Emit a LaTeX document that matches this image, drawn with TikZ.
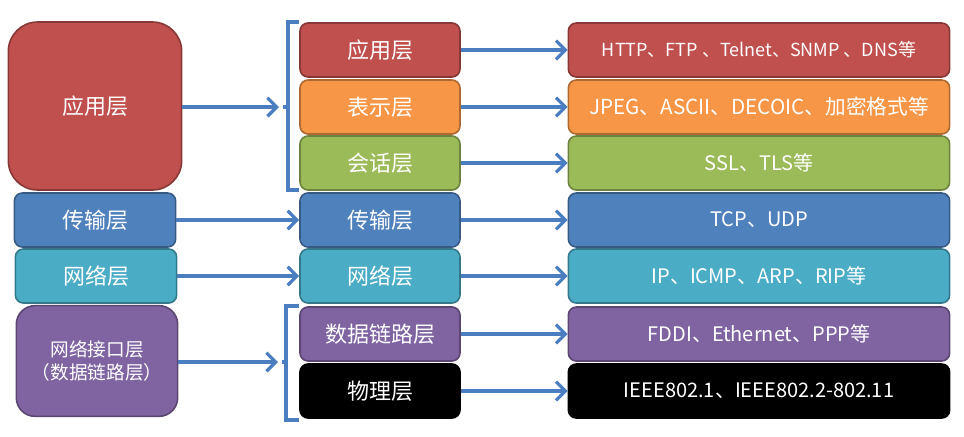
\documentclass[tikz,border=0pt]{standalone}
\usepackage{fontspec}
\setmainfont{Noto Sans CJK SC}
\usetikzlibrary{arrows.meta}
\definecolor{cred}{HTML}{C0504D}
\definecolor{corange}{HTML}{F79646}
\definecolor{cgreen}{HTML}{9BBB59}
\definecolor{cblue}{HTML}{4F81BD}
\definecolor{cteal}{HTML}{4BACC6}
\definecolor{cpurple}{HTML}{8064A2}
\definecolor{cline}{HTML}{4A7EC0}
\tikzset{
 lay/.style={draw=#1!70!black, fill=#1, line width=1.2pt, rounded corners=6pt, text=white, font=\fontsize{16.5}{19}\selectfont, align=center, inner sep=0pt},
 mid/.style={lay=#1, minimum width=120pt, minimum height=40.5pt},
 rt/.style={lay=#1, minimum width=286pt, minimum height=40.5pt, font=\fontsize{15}{18}\selectfont},
 arr/.style={draw=cline, line width=2.4pt, -{Straight Barb[length=7pt,width=14pt,line width=2.4pt]}},
 brc/.style={draw=cline, line width=2.4pt}
}
\begin{document}
\begin{tikzpicture}[x=0.75pt,y=-0.75pt]
\useasboundingbox (0,0) rectangle (964,436);
\node[lay=cred, minimum width=130pt, minimum height=126pt, rounded corners=22pt] (L1) at (95,106) {应用层};
\node[lay=cblue, minimum width=121pt, minimum height=40.5pt] (L2) at (95,220) {传输层};
\node[lay=cteal, minimum width=121pt, minimum height=40.5pt] (L3) at (96,276) {网络层};
\node[lay=cpurple, minimum width=121pt, minimum height=83pt, rounded corners=14pt, font=\fontsize{14}{17}\selectfont] (L4) at (97,361) {网络接口层\\（数据链路层）};

\node[mid=cred] (M1) at (380,50) {应用层};
\node[mid=corange] (M2) at (380,107) {表示层};
\node[mid=cgreen] (M3) at (380,163) {会话层};
\node[mid=cblue] (M4) at (380,220) {传输层};
\node[mid=cteal] (M5) at (380,276) {网络层};
\node[mid=cpurple] (M6) at (380,334) {数据链路层};
\node[mid=black] (M7) at (380,391) {物理层};

\node[rt=cred, font=\fontsize{13.5}{16}\selectfont] (R1) at (759,50) {HTTP、FTP 、Telnet、SNMP 、DNS等};
\node[rt=corange, font=\fontsize{15.5}{18}\selectfont] (R2) at (759,107) {JPEG、ASCII、DECOIC、加密格式等};
\node[rt=cgreen] (R3) at (759,163) {SSL、TLS等};
\node[rt=cblue] (R4) at (759,220) {TCP、UDP};
\node[rt=cteal] (R5) at (759,276) {IP、ICMP、ARP、RIP等};
\node[rt=cpurple] (R6) at (759,334) {FDDI、Ethernet、PPP等};
\node[rt=black] (R7) at (759,391) {IEEE802.1、IEEE802.2-802.11};

\foreach \i in {1,...,7} \draw[arr] (M\i.east) -- (R\i.west);

\coordinate (B1) at (283,107);
\coordinate (B2) at (282,362);
\draw[brc] (299,22) -- (288,22) -- (288,190) -- (299,190);
\draw[brc] (288,107) -- (B1);
\draw[brc] (299,306) -- (286,306) -- (286,420) -- (299,420);
\draw[brc] (286,362) -- (B2);
\draw[arr] (L1.east |- B1) -- ([xshift=-3pt]B1);
\draw[arr] (L4.east |- B2) -- ([xshift=-3pt]B2);
\draw[arr] (L2.east) -- (M4.west);
\draw[arr] (L3.east) -- (M5.west);
\end{tikzpicture}
\end{document}
